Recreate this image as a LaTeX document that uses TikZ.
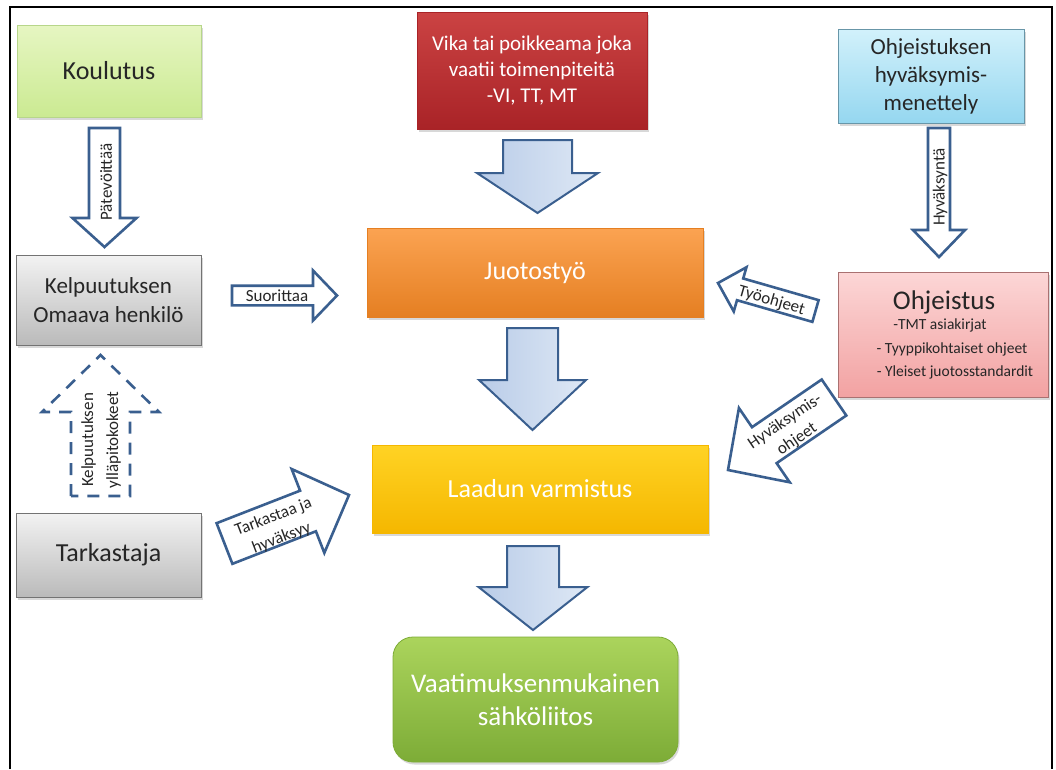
\documentclass[tikz,border=0pt]{standalone}
\usepackage{fontspec}
\setmainfont{Carlito}
\usetikzlibrary{calc,shadows}
\definecolor{abl}{HTML}{3A5F8F}
\definecolor{txt}{HTML}{262626}
\definecolor{kouT}{HTML}{E6F6C2}
\definecolor{kouB}{HTML}{CBEA92}
\definecolor{kouD}{HTML}{B7D68A}
\definecolor{vikT}{HTML}{CB4343}
\definecolor{vikB}{HTML}{A92327}
\definecolor{juoT}{HTML}{FBA352}
\definecolor{juoB}{HTML}{E57F22}
\definecolor{laaT}{HTML}{FFD324}
\definecolor{laaB}{HTML}{F5B700}
\definecolor{vaaT}{HTML}{ABD45C}
\definecolor{vaaB}{HTML}{7DAC37}
\definecolor{ohkT}{HTML}{D2F1FB}
\definecolor{ohkB}{HTML}{95D7F0}
\definecolor{ohjT}{HTML}{FCD6D6}
\definecolor{ohjB}{HTML}{F2A2A2}
\definecolor{carL}{HTML}{B9CCE8}
\definecolor{carR}{HTML}{DEE8F5}
\newcommand\blockarrow[7]{%
  \coordinate (#2b) at ($(#4)!#7pt!(#3)$);
  \draw[#1] ($(#3)!#5pt!90:(#4)$) -- ($(#2b)!#5pt!-90:(#3)$) -- ($(#2b)!#6pt!-90:(#3)$) -- (#4) -- ($(#2b)!#6pt!90:(#3)$) -- ($(#2b)!#5pt!90:(#3)$) -- ($(#3)!#5pt!-90:(#4)$) -- cycle;
}
\begin{document}
\begin{tikzpicture}[x=1pt,y=-1pt,
  box/.style={draw, line width=0.8pt, inner sep=0pt, align=center,
    drop shadow={shadow xshift=1.5pt, shadow yshift=-2.5pt, opacity=0.3}},
  oarrow/.style={draw=abl, line width=2.6pt, fill=white, line join=miter},
  darrow/.style={draw=abl, line width=2.6pt, dash pattern=on 12pt off 9pt, line join=miter},
  carrow/.style={draw=abl, line width=2pt, left color=carL, right color=carR, line join=miter},
  lbl/.style={font=\fontsize{17}{21}\selectfont, text=txt, inner sep=0pt, align=center},
  item/.style={text=txt, inner sep=0pt, font=\fontsize{15.5}{19}\selectfont}]
\useasboundingbox (0,0) rectangle (1056,769);
\fill[white] (0,0) rectangle (1056,769);
\draw[line width=2pt, black] (10,769) -- (10,7) -- (1052,7) -- (1052,769);

% boxes
\node[box, draw=kouD, top color=kouT, bottom color=kouB,
  minimum width=184, minimum height=92, text=txt, font=\fontsize{26}{31}\selectfont] (kou) at (109,71) {Koulutus};
\node[box, draw=black!55, top color=black!5, bottom color=black!27,
  minimum width=185, minimum height=90, text=txt, font=\fontsize{23}{29}\selectfont] (kel) at (108.5,300) {Kelpuutuksen\\Omaava henkilö};
\node[box, draw=black!55, top color=black!5, bottom color=black!27,
  minimum width=185, minimum height=84, text=txt, font=\fontsize{26}{31}\selectfont] (tar) at (108.5,555) {Tarkastaja};
\node[box, draw=vikB, top color=vikT, bottom color=vikB,
  minimum width=230, minimum height=117, text=white, font=\fontsize{21}{26}\selectfont] (vik) at (532,70.5) {Vika tai poikkeama joka\\vaatii toimenpiteitä\\-VI, TT, MT};
\node[box, draw=juoB, top color=juoT, bottom color=juoB,
  minimum width=336, minimum height=89, text=white, font=\fontsize{26}{31}\selectfont] (juo) at (535,272.5) {Juotostyö};
\node[box, draw=laaB, top color=laaT, bottom color=laaB,
  minimum width=336, minimum height=88, text=white, font=\fontsize{26}{31}\selectfont] (laa) at (540,489) {Laadun varmistus};
\node[box, draw=vaaB, rounded corners=20pt, top color=vaaT, bottom color=vaaB,
  minimum width=285, minimum height=125, text=white, font=\fontsize{27}{33}\selectfont] (vaa) at (535.5,699.5) {Vaatimuksenmukainen\\sähköliitos};
\node[box, draw=ohkB!70!black, top color=ohkT, bottom color=ohkB,
  minimum width=186, minimum height=94, text=txt, font=\fontsize{23}{28}\selectfont] (ohk) at (931,76) {Ohjeistuksen\\hyväksymis-\\menettely};
\node[box, draw=ohjB!70!black, top color=ohjT, bottom color=ohjB,
  minimum width=210, minimum height=125] (ohj) at (943,334.5) {};
\node[text=txt, inner sep=0pt, font=\fontsize{27}{30}\selectfont] (ohjt) at (944,302) {Ohjeistus};
\node[item] (ohj1) at (940,325.5) {-TMT asiakirjat};
\node[item] (ohj2) at (952,349) {- Tyyppikohtaiset ohjeet};
\node[item] (ohj3) at (955,372.5) {- Yleiset juotosstandardit};

% arrow end points
\coordinate (a1s) at (104.5,128); \coordinate (a1e) at (104.5,247);
\coordinate (a2s) at (232,295.5); \coordinate (a2e) at (337,295.5);
\coordinate (a3s) at (100.5,496); \coordinate (a3e) at (100.5,355);
\coordinate (a4s) at (224.5,543.5); \coordinate (a4e) at (349,495);
\coordinate (a5s) at (537.5,140); \coordinate (a5e) at (537.5,213);
\coordinate (a6s) at (532.5,328); \coordinate (a6e) at (532.5,430);
\coordinate (a7s) at (533,546); \coordinate (a7e) at (533,630);
\coordinate (a8s) at (939,128); \coordinate (a8e) at (939,257);
\coordinate (a9s) at (815.5,311); \coordinate (a9e) at (718,283);
\coordinate (a10s) at (834,397.5); \coordinate (a10e) at (728,470);

\blockarrow{oarrow}{a1}{a1s}{a1e}{15.5}{32}{29}
\blockarrow{oarrow}{a2}{a2s}{a2e}{9.8}{25}{24}
\blockarrow{darrow}{a3}{a3s}{a3e}{29.5}{58.5}{57}
\blockarrow{oarrow}{a4}{a4s}{a4e}{21.8}{45}{44}
\blockarrow{carrow}{a5}{a5s}{a5e}{34.5}{60.5}{40}
\blockarrow{carrow}{a6}{a6s}{a6e}{25.5}{53.5}{50}
\blockarrow{carrow}{a7}{a7s}{a7e}{26}{54.5}{43}
\blockarrow{oarrow}{a8}{a8s}{a8e}{11}{26}{27}
\blockarrow{oarrow}{a9}{a9s}{a9e}{11.3}{23}{23}
\blockarrow{oarrow}{a10}{a10s}{a10e}{21.8}{45}{44}

% arrow labels
\node[lbl, rotate=90] (lpat) at (106,182) {Pätevöittää};
\node[lbl] (lsuo) at (277,296) {Suorittaa};
\node[lbl, rotate=90, font=\fontsize{17}{25}\selectfont] (lkel) at (101,440) {Kelpuutuksen\\ylläpitokokeet};
\node[lbl, rotate=21, font=\fontsize{17}{22.5}\selectfont] (ltar) at (277.5,527.5) {Tarkastaa ja\\hyväksyy};
\node[lbl, rotate=90] (lhyv) at (940,187) {Hyväksyntä};
\node[lbl, rotate=-16] (ltyo) at (771.5,301) {Työohjeet};
\node[lbl, rotate=34, font=\fontsize{17}{21.5}\selectfont] (lhyo) at (791,430.5) {Hyväksymis-\\ohjeet};
\end{tikzpicture}
\end{document}
